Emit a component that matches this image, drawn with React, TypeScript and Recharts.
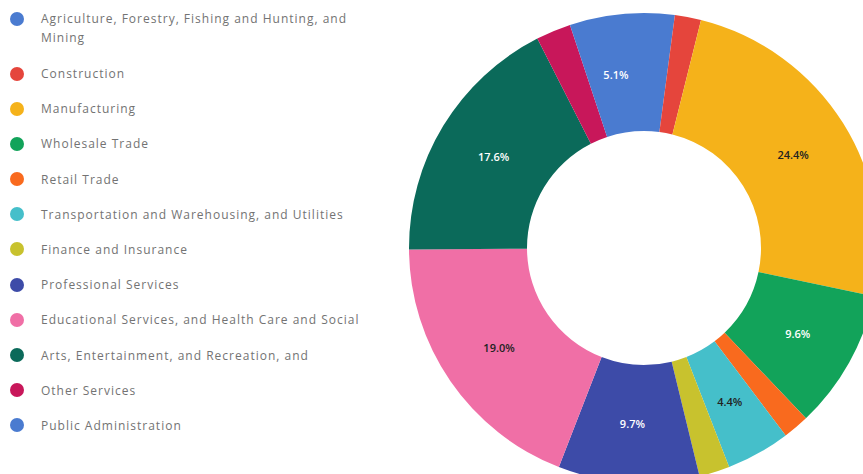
import { PieChart, Pie, Cell } from 'recharts';

const categories = [
  "Agriculture, Forestry, Fishing and Hunting, and Mining",
  "Construction",
  "Manufacturing",
  "Wholesale Trade",
  "Retail Trade",
  "Transportation and Warehousing, and Utilities",
  "Finance and Insurance",
  "Professional Services",
  "Educational Services, and Health Care and Social",
  "Arts, Entertainment, and Recreation, and",
  "Other Services",
  "Public Administration",
];

const shares = [2.1, 1.8, 24.4, 9.6, 1.8, 4.4, 2.1, 9.7, 19.0, 17.6, 2.4, 5.1];

const sliceColors = [
  "#4a7bd0", "#e5453c", "#f5b21a", "#12a35a", "#f96a1e", "#45bfca",
  "#c8c22e", "#3d4ba8", "#f06fa6", "#0b6a5a", "#c8175a", "#4a7bd0",
];

// slices where the label is drawn dark
const darkText = ["Manufacturing", "Educational Services, and Health Care and Social", "Transportation and Warehousing, and Utilities"];

const data = categories.map((name, i) => ({ name, value: shares[i] }));

const RAD = Math.PI / 180;

const renderLabel = (props: any) => {
  const { cx, cy, midAngle, innerRadius, outerRadius, payload } = props;
  if (payload.value < 4) return null;
  const r = (innerRadius + outerRadius) / 2;
  const x = cx + r * Math.cos(-midAngle * RAD);
  const y = cy + r * Math.sin(-midAngle * RAD);
  return (
    <text
      x={x}
      y={y}
      fill={darkText.includes(payload.name) ? "#222222" : "#ffffff"}
      textAnchor="middle"
      dominantBaseline="central"
      fontSize={11}
      fontWeight={600}
      fontFamily="'Open Sans', sans-serif"
    >
      {payload.value.toFixed(1) + "%"}
    </text>
  );
};

function App() {
  return (
    <div style={{ position: 'relative', width: 863, height: 474, background: '#fff', overflow: 'hidden' }}>
      <style>{"body{margin:0}"}</style>

      <div style={{ position: 'absolute', left: 0, top: 9, width: 380, fontFamily: "'Open Sans', sans-serif", fontSize: 12, letterSpacing: '1px', color: '#737373' }}>
        {categories.map((c, i) => (
          <div key={c} style={{ position: 'relative', paddingLeft: 41, marginBottom: i === 0 ? 17 : 16.2, lineHeight: '19px', minHeight: 19 }}>
            <span style={{
              position: 'absolute', left: 10, top: 2.5, width: 14, height: 14, borderRadius: '50%',
              backgroundColor: sliceColors[i]
            }} />
            {c}
          </div>
        ))}
      </div>

      <div style={{ position: 'absolute', left: 0, top: 0 }}>
        <PieChart width={863} height={474}>
          <Pie
            data={data}
            dataKey="value"
            nameKey="name"
            cx={639}
            cy={243}
            innerRadius={117}
            outerRadius={235}
            startAngle={90}
            endAngle={-270}
            stroke="none"
            label={renderLabel}
            labelLine={false}
            isAnimationActive={false}
          >
            {data.map((entry, index) => (
              <Cell key={`cell-${index}`} fill={sliceColors[index]} />
            ))}
          </Pie>
        </PieChart>
      </div>
    </div>
  );
}

export default App;
